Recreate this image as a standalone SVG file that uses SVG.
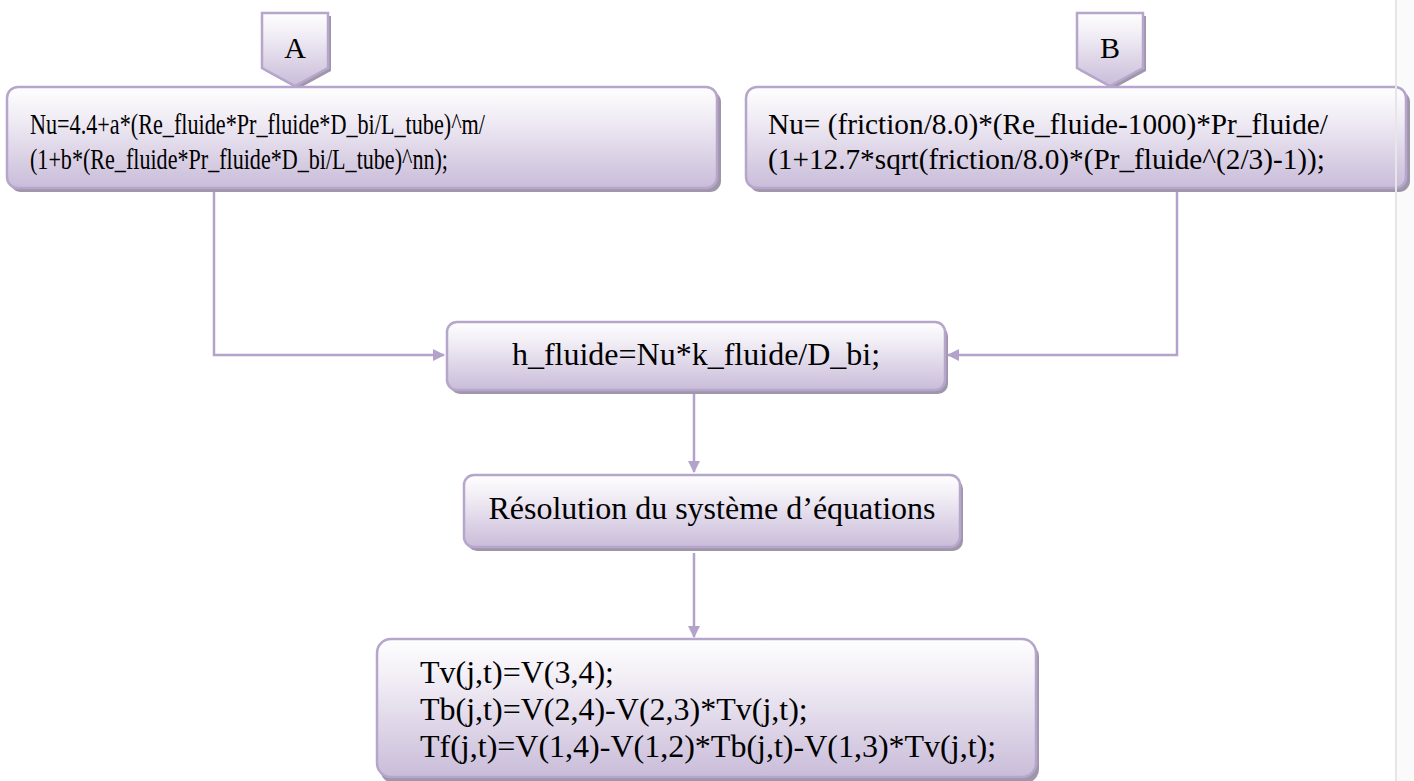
<svg xmlns="http://www.w3.org/2000/svg" width="1414" height="781" viewBox="0 0 1414 781">
<defs>
<linearGradient id="g" x1="0" y1="0" x2="0" y2="1">
<stop offset="0" stop-color="#fefefe"/>
<stop offset="0.3" stop-color="#f1edf5"/>
<stop offset="1" stop-color="#c9bcd9"/>
</linearGradient>
<marker id="ah" markerWidth="12" markerHeight="12" refX="11" refY="6" orient="auto" markerUnits="userSpaceOnUse">
<path d="M0,0 L12,6 L0,12 Z" fill="#b3a2c9"/>
</marker>
<style>
.box{fill:url(#g);stroke:#b6a6cc;stroke-width:2.5}
.sh{fill:#a096ab}
.t{font-family:"Liberation Serif","Times New Roman",serif;font-size:30px;fill:#000}
.m{font-size:32px}
.c{fill:none;stroke:#b3a2c9;stroke-width:2.5}
</style>
</defs>
<rect width="1414" height="781" fill="#ffffff"/>
<rect x="1396" y="0" width="18" height="781" fill="#fafafa"/>

<g id="connectors">
<path class="c" d="M214,190 V355 H444" marker-end="url(#ah)"/>
<path class="c" d="M1177,190 V355 H948" marker-end="url(#ah)"/>
<path class="c" d="M694,393 V472" marker-end="url(#ah)"/>
<path class="c" d="M694,553 V637" marker-end="url(#ah)"/>
</g>

<g id="labelA">
<path class="sh" d="M265,16 H331 V71 L298,89 L265,71 Z"/>
<path class="box" d="M262,13 H328 V68 L295,86 L262,68 Z"/>
<text class="t" x="295" y="58" text-anchor="middle" font-size="36">A</text>
</g>

<g id="labelB">
<path class="sh" d="M1080,16 H1146 V71 L1113,89 L1080,71 Z"/>
<path class="box" d="M1077,13 H1143 V68 L1110,86 L1077,68 Z"/>
<text class="t" x="1110" y="58" text-anchor="middle" font-size="36">B</text>
</g>

<g id="boxA">
<rect class="sh" x="10" y="91" width="711" height="101" rx="11"/>
<rect class="box" x="7" y="87" width="710" height="101" rx="11"/>
<text class="t" x="30" y="134" textLength="455" lengthAdjust="spacingAndGlyphs">Nu=4.4+a*(Re_fluide*Pr_fluide*D_bi/L_tube)^m/</text>
<text class="t" x="30" y="169" textLength="418" lengthAdjust="spacingAndGlyphs">(1+b*(Re_fluide*Pr_fluide*D_bi/L_tube)^nn);</text>
</g>

<g id="boxB">
<rect class="sh" x="749" y="91" width="661" height="101" rx="11"/>
<rect class="box" x="746" y="87" width="660" height="101" rx="11"/>
<text class="t" x="768" y="134" textLength="560" lengthAdjust="spacingAndGlyphs">Nu= (friction/8.0)*(Re_fluide-1000)*Pr_fluide/</text>
<text class="t" x="768" y="169" textLength="557" lengthAdjust="spacingAndGlyphs">(1+12.7*sqrt(friction/8.0)*(Pr_fluide^(2/3)-1));</text>
</g>

<g id="hfluide">
<rect class="sh" x="450" y="326" width="498" height="68" rx="10"/>
<rect class="box" x="447" y="322" width="498" height="68" rx="10"/>
<text class="t m" x="696" y="365" text-anchor="middle">h_fluide=Nu*k_fluide/D_bi;</text>
</g>

<g id="resolution">
<rect class="sh" x="467" y="479" width="496" height="72" rx="10"/>
<rect class="box" x="464" y="475" width="496" height="72" rx="10"/>
<text class="t m" x="712" y="519" text-anchor="middle">Résolution du système d’équations</text>
</g>

<g id="result">
<rect class="sh" x="380" y="643" width="659" height="140" rx="14"/>
<rect class="box" x="377" y="639" width="659" height="138" rx="14"/>
<text class="t m" x="420" y="683">Tv(j,t)=V(3,4);</text>
<text class="t m" x="420" y="720">Tb(j,t)=V(2,4)-V(2,3)*Tv(j,t);</text>
<text class="t m" x="420" y="757">Tf(j,t)=V(1,4)-V(1,2)*Tb(j,t)-V(1,3)*Tv(j,t);</text>
</g>

<line x1="1396" y1="0" x2="1396" y2="781" stroke="#e6e6e6" stroke-width="2"/>
</svg>
